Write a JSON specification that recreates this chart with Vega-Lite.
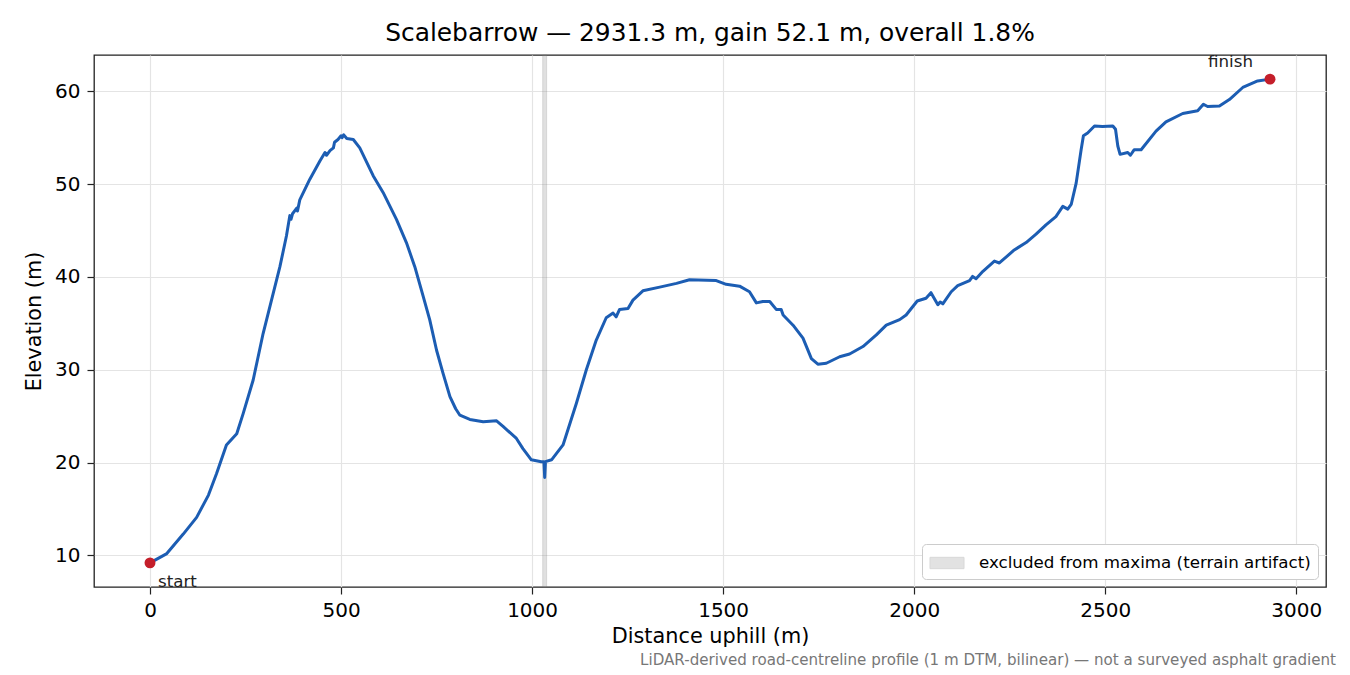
{
  "$schema": "https://vega.github.io/schema/vega-lite/v6.json",
  "width": 1232,
  "height": 532,
  "autosize": {"type": "none"},
  "padding": {"left": 94, "top": 55, "right": 24, "bottom": 88},
  "background": "white",
  "title": {
    "text": "Scalebarrow — 2931.3 m, gain 52.1 m, overall 1.8%",
    "font": "DejaVu Sans",
    "fontSize": 24.9,
    "fontWeight": "normal",
    "color": "black",
    "offset": 8
  },
  "config": {
    "font": "DejaVu Sans",
    "view": {"stroke": "#222222", "strokeWidth": 1.3},
    "axis": {
      "domain": false,
      "grid": true,
      "gridColor": "#e4e4e4",
      "gridWidth": 1.2,
      "tickColor": "#222222",
      "tickSize": 7,
      "tickWidth": 1.2,
      "labelFont": "DejaVu Sans",
      "labelFontSize": 20,
      "labelColor": "black",
      "titleFont": "DejaVu Sans",
      "titleFontSize": 20.8,
      "titleFontWeight": "normal",
      "titleColor": "black"
    }
  },
  "datasets": {
    "profile": [
      {"d": 0, "e": 9.2}, {"d": 44, "e": 10.2}, {"d": 87, "e": 12.3}, {"d": 122, "e": 14.1},
      {"d": 153, "e": 16.5}, {"d": 174, "e": 18.8}, {"d": 200, "e": 21.9}, {"d": 227, "e": 23.1},
      {"d": 244, "e": 25.3}, {"d": 270, "e": 28.9}, {"d": 296, "e": 33.9}, {"d": 318, "e": 37.5},
      {"d": 340, "e": 41.1}, {"d": 357, "e": 44.4}, {"d": 366, "e": 46.6}, {"d": 369, "e": 46.2},
      {"d": 373, "e": 46.8}, {"d": 384, "e": 47.4}, {"d": 386, "e": 47.1}, {"d": 392, "e": 48.3},
      {"d": 418, "e": 50.5}, {"d": 445, "e": 52.5}, {"d": 458, "e": 53.4}, {"d": 462, "e": 53.1},
      {"d": 471, "e": 53.6}, {"d": 480, "e": 53.9}, {"d": 483, "e": 54.5}, {"d": 492, "e": 54.8},
      {"d": 500, "e": 55.2}, {"d": 503, "e": 55.0}, {"d": 507, "e": 55.3}, {"d": 515, "e": 54.9},
      {"d": 532, "e": 54.8}, {"d": 549, "e": 53.9}, {"d": 584, "e": 50.9}, {"d": 610, "e": 49.1},
      {"d": 645, "e": 46.2}, {"d": 671, "e": 43.7}, {"d": 693, "e": 41.1}, {"d": 715, "e": 37.9},
      {"d": 732, "e": 35.4}, {"d": 750, "e": 32.1}, {"d": 767, "e": 29.6}, {"d": 785, "e": 27.1},
      {"d": 800, "e": 25.8}, {"d": 811, "e": 25.1}, {"d": 837, "e": 24.65}, {"d": 872, "e": 24.4},
      {"d": 907, "e": 24.5}, {"d": 924, "e": 23.9}, {"d": 959, "e": 22.6}, {"d": 976, "e": 21.5},
      {"d": 998, "e": 20.3}, {"d": 1024, "e": 20.1}, {"d": 1031, "e": 20.1}, {"d": 1033, "e": 18.4},
      {"d": 1035, "e": 20.1}, {"d": 1051, "e": 20.3}, {"d": 1081, "e": 21.9}, {"d": 1116, "e": 26.4},
      {"d": 1142, "e": 30.0}, {"d": 1168, "e": 33.2}, {"d": 1194, "e": 35.6}, {"d": 1212, "e": 36.1},
      {"d": 1220, "e": 35.7}, {"d": 1229, "e": 36.5}, {"d": 1251, "e": 36.6}, {"d": 1264, "e": 37.5},
      {"d": 1290, "e": 38.5}, {"d": 1334, "e": 38.9}, {"d": 1378, "e": 39.3}, {"d": 1412, "e": 39.7},
      {"d": 1482, "e": 39.6}, {"d": 1508, "e": 39.2}, {"d": 1543, "e": 39.0}, {"d": 1569, "e": 38.4},
      {"d": 1587, "e": 37.2}, {"d": 1604, "e": 37.35}, {"d": 1622, "e": 37.35}, {"d": 1639, "e": 36.5},
      {"d": 1652, "e": 36.5}, {"d": 1657, "e": 35.9}, {"d": 1683, "e": 34.8}, {"d": 1709, "e": 33.4},
      {"d": 1731, "e": 31.2}, {"d": 1748, "e": 30.6}, {"d": 1770, "e": 30.7}, {"d": 1805, "e": 31.4},
      {"d": 1831, "e": 31.7}, {"d": 1866, "e": 32.5}, {"d": 1901, "e": 33.75}, {"d": 1927, "e": 34.8},
      {"d": 1962, "e": 35.4}, {"d": 1979, "e": 35.9}, {"d": 2008, "e": 37.4}, {"d": 2031, "e": 37.7},
      {"d": 2044, "e": 38.3}, {"d": 2062, "e": 37.0}, {"d": 2068, "e": 37.3}, {"d": 2075, "e": 37.1},
      {"d": 2097, "e": 38.4}, {"d": 2114, "e": 39.05}, {"d": 2145, "e": 39.6}, {"d": 2153, "e": 40.05},
      {"d": 2162, "e": 39.8}, {"d": 2180, "e": 40.6}, {"d": 2210, "e": 41.7}, {"d": 2223, "e": 41.5},
      {"d": 2262, "e": 42.9}, {"d": 2293, "e": 43.7}, {"d": 2319, "e": 44.6}, {"d": 2345, "e": 45.6},
      {"d": 2371, "e": 46.5}, {"d": 2389, "e": 47.6}, {"d": 2402, "e": 47.3}, {"d": 2411, "e": 47.8},
      {"d": 2424, "e": 50.1}, {"d": 2437, "e": 53.7}, {"d": 2443, "e": 55.2}, {"d": 2454, "e": 55.5},
      {"d": 2472, "e": 56.25}, {"d": 2493, "e": 56.2}, {"d": 2520, "e": 56.25}, {"d": 2527, "e": 55.9},
      {"d": 2533, "e": 54.1}, {"d": 2539, "e": 53.2}, {"d": 2559, "e": 53.4}, {"d": 2566, "e": 53.1},
      {"d": 2576, "e": 53.7}, {"d": 2594, "e": 53.7}, {"d": 2633, "e": 55.7}, {"d": 2659, "e": 56.7},
      {"d": 2703, "e": 57.6}, {"d": 2742, "e": 57.9}, {"d": 2757, "e": 58.6}, {"d": 2768, "e": 58.35},
      {"d": 2799, "e": 58.4}, {"d": 2825, "e": 59.1}, {"d": 2860, "e": 60.4}, {"d": 2899, "e": 61.1},
      {"d": 2931.3, "e": 61.3}
    ],
    "ends": [
      {"d": 0, "e": 9.2, "label": "start", "pos": "start"},
      {"d": 2931.3, "e": 61.3, "label": "finish", "pos": "finish"}
    ],
    "band": [
      {"d0": 1028, "d1": 1038, "what": "excluded from maxima (terrain artifact)"}
    ],
    "note": [
      {"d": 3077.9, "e": 6.6, "text": "LiDAR-derived road-centreline profile (1 m DTM, bilinear) — not a surveyed asphalt gradient"}
    ]
  },
  "layer": [
    {
      "data": {"name": "band"},
      "mark": {"type": "rect", "opacity": 0.3, "stroke": "#777777", "strokeWidth": 1},
      "encoding": {
        "x": {"field": "d0", "type": "quantitative"},
        "x2": {"field": "d1"},
        "color": {
          "field": "what",
          "type": "nominal",
          "scale": {"range": ["#9a9a9a"]},
          "legend": {
            "title": null,
            "orient": "bottom-right",
            "offset": 8.5,
            "fillColor": "white",
            "strokeColor": "#cccccc",
            "cornerRadius": 4,
            "padding": 7,
            "labelFont": "DejaVu Sans",
            "labelFontSize": 16.7,
            "labelColor": "black",
            "labelLimit": 0,
            "labelOffset": 20,
            "symbolType": "M-1.5,-0.5H1.5V0.5H-1.5Z",
            "symbolSize": 514,
            "symbolOffset": 6,
            "symbolOpacity": 0.28,
            "symbolStrokeColor": "#777777",
            "symbolStrokeWidth": 1
          }
        }
      }
    },
    {
      "data": {"name": "profile"},
      "mark": {"type": "line", "color": "#1c5db3", "strokeWidth": 3, "strokeJoin": "round"},
      "encoding": {
        "x": {
          "field": "d",
          "type": "quantitative",
          "scale": {"domain": [-146.6, 3077.9], "nice": false, "zero": false},
          "axis": {"title": "Distance uphill (m)", "values": [0, 500, 1000, 1500, 2000, 2500, 3000], "format": "d", "labelPadding": 6, "titlePadding": 6}
        },
        "y": {
          "field": "e",
          "type": "quantitative",
          "scale": {"domain": [6.6, 63.9], "nice": false, "zero": false},
          "axis": {"title": "Elevation (m)", "values": [10, 20, 30, 40, 50, 60], "labelPadding": 7, "titlePadding": 10}
        }
      }
    },
    {
      "data": {"name": "ends"},
      "mark": {"type": "point", "filled": true, "shape": "circle", "size": 120, "color": "#c41e2a", "opacity": 1},
      "encoding": {
        "x": {"field": "d", "type": "quantitative"},
        "y": {"field": "e", "type": "quantitative"}
      }
    },
    {
      "data": {"name": "ends"},
      "transform": [{"filter": "datum.pos == 'start'"}],
      "mark": {"type": "text", "align": "left", "baseline": "alphabetic", "dx": 8, "dy": 24, "fontSize": 16.7, "color": "#222222"},
      "encoding": {
        "x": {"field": "d", "type": "quantitative"},
        "y": {"field": "e", "type": "quantitative"},
        "text": {"field": "label"}
      }
    },
    {
      "data": {"name": "ends"},
      "transform": [{"filter": "datum.pos == 'finish'"}],
      "mark": {"type": "text", "align": "right", "baseline": "alphabetic", "dx": -17, "dy": -12, "fontSize": 16.7, "color": "#222222"},
      "encoding": {
        "x": {"field": "d", "type": "quantitative"},
        "y": {"field": "e", "type": "quantitative"},
        "text": {"field": "label"}
      }
    },
    {
      "data": {"name": "note"},
      "mark": {"type": "text", "align": "right", "baseline": "middle", "dx": 10, "dy": 73, "fontSize": 15.1, "color": "#777777", "clip": false},
      "encoding": {
        "x": {"datum": 3077.9},
        "y": {"datum": 6.6},
        "text": {"field": "text"}
      }
    }
  ]
}
